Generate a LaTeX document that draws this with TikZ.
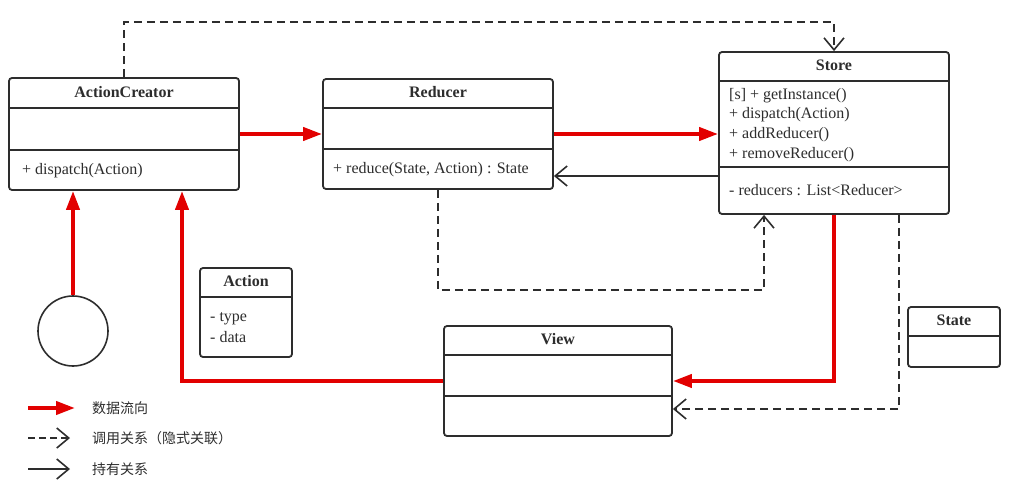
\documentclass[tikz,border=0pt]{standalone}
\usepackage{fontspec}
\setmainfont{Liberation Serif}
\newfontfamily\cjk{Noto Sans CJK SC}
\usetikzlibrary{arrows.meta}
\definecolor{flowred}{RGB}{226,0,0}
\definecolor{ink}{RGB}{45,45,45}
\begin{document}
\begin{tikzpicture}[x=1pt,y=-1pt,
  box/.style={draw=ink, line width=1.8pt, rounded corners=3pt, inner sep=0pt, fill=white},
  sep/.style={draw=ink, line width=1.8pt},
  title/.style={font=\fontsize{16}{19}\selectfont\bfseries, text=ink, text height=11pt, text depth=3.7pt, inner sep=0pt},
  mem/.style={font=\fontsize{16}{19}\selectfont, text=ink, anchor=west, inner sep=0pt, text height=11.6pt, text depth=4pt},
  flow/.style={draw=flowred, line width=4pt, -{Triangle[length=19pt,width=13pt]}},
  call/.style={draw=ink, line width=1.6pt, dash pattern=on 8pt off 5pt, -{Straight Barb[length=12pt,width=20pt]}},
  hold/.style={draw=ink, line width=1.6pt, -{Straight Barb[length=12pt,width=20pt]}},
  legend/.style={font=\cjk\fontsize{14}{16}\selectfont, anchor=west, inner sep=0pt, text=ink}]
\useasboundingbox (0,0) rectangle (1020,484);

% ActionCreator
\node[box, minimum width=230pt, minimum height=112pt] (ac) at (124,134) {};
\draw[sep] ([yshift=-31pt]ac.north west) -- ([yshift=-31pt]ac.north east);
\draw[sep] ([yshift=-73pt]ac.north west) -- ([yshift=-73pt]ac.north east);
\node[title] (act) at (124,94) {ActionCreator};
\node[mem] (acm) at (22,171) {+ dispatch(Action)};

% Reducer
\node[box, minimum width=230pt, minimum height=110pt] (reducer) at (438,134) {};
\draw[sep] ([yshift=-30pt]reducer.north west) -- ([yshift=-30pt]reducer.north east);
\draw[sep] ([yshift=-71pt]reducer.north west) -- ([yshift=-71pt]reducer.north east);
\node[title] (rt) at (438,94) {Reducer};
\node[mem] (rm) at (333,170) {+ reduce(State, Action) : State};

% Store
\node[box, minimum width=230pt, minimum height=162pt] (store) at (834,133) {};
\draw[sep] ([yshift=-30pt]store.north west) -- ([yshift=-30pt]store.north east);
\draw[sep] ([yshift=-116pt]store.north west) -- ([yshift=-116pt]store.north east);
\node[title] (st) at (834,67) {Store};
\node[mem] (s1) at (729,96) {[s] + getInstance()};
\node[mem] (s2) at (729,115) {+ dispatch(Action)};
\node[mem] (s3) at (729,135) {+ addReducer()};
\node[mem] (s4) at (729,155) {+ removeReducer()};
\node[mem] (s5) at (729,192) {- reducers : List<Reducer>};

% View
\node[box, minimum width=228pt, minimum height=110pt] (view) at (558,381) {};
\draw[sep] ([yshift=-30pt]view.north west) -- ([yshift=-30pt]view.north east);
\draw[sep] ([yshift=-71pt]view.north west) -- ([yshift=-71pt]view.north east);
\node[title] (vt) at (558,341) {View};

% State
\node[box, minimum width=92pt, minimum height=60pt] (state) at (954,337) {};
\draw[sep] ([yshift=-30pt]state.north west) -- ([yshift=-30pt]state.north east);
\node[title] (stt) at (954,322) {State};

% Action
\node[box, minimum width=92pt, minimum height=89pt] (action) at (246,312.5) {};
\draw[sep] ([yshift=-30pt]action.north west) -- ([yshift=-30pt]action.north east);
\node[title] (at) at (246,283) {Action};
\node[mem] (a1) at (210,318) {- type};
\node[mem] (a2) at (210,339) {- data};

% actor circle
\node[draw=ink, line width=1.6pt, circle, minimum size=70pt, inner sep=0pt] (actor) at (73,331) {};

% connectors
\coordinate (c1) at (834,22);
\draw[call] (ac.north) |- (c1) -- (store.north);
\draw[flow] (ac.east) -- (reducer.west);
\draw[flow] (reducer.east) -- (reducer.east -| store.west);
\coordinate (h1) at (0,176);
\draw[hold] (h1 -| store.west) -- (h1 -| reducer.east);
\coordinate (c2) at (764,290);
\draw[call] (reducer.south) |- (c2) -- (c2 |- store.south);
\draw[flow] (store.south) |- (view.east);
\coordinate (c3) at (899,409);
\draw[call] (c3 |- store.south) -- (c3) -- (c3 -| view.east);
\coordinate (c4) at (182,381);
\draw[flow] (view.west) -- (c4) -- (c4 |- ac.south);
\draw[flow] (actor.north) -- (actor.north |- ac.south);

% legend
\coordinate (l1a) at (28,408); \coordinate (l1b) at (75,408);
\coordinate (l2a) at (28,438); \coordinate (l2b) at (70,438);
\coordinate (l3a) at (28,469); \coordinate (l3b) at (70,469);
\draw[flow] (l1a) -- (l1b);
\draw[call, dash pattern=on 7pt off 4pt] (l2a) -- (l2b);
\draw[hold] (l3a) -- (l3b);
\node[legend] (lt1) at (92,408) {数据流向};
\node[legend] (lt2) at (92,438) {调用关系（隐式关联）};
\node[legend] (lt3) at (92,469) {持有关系};
\end{tikzpicture}
\end{document}
